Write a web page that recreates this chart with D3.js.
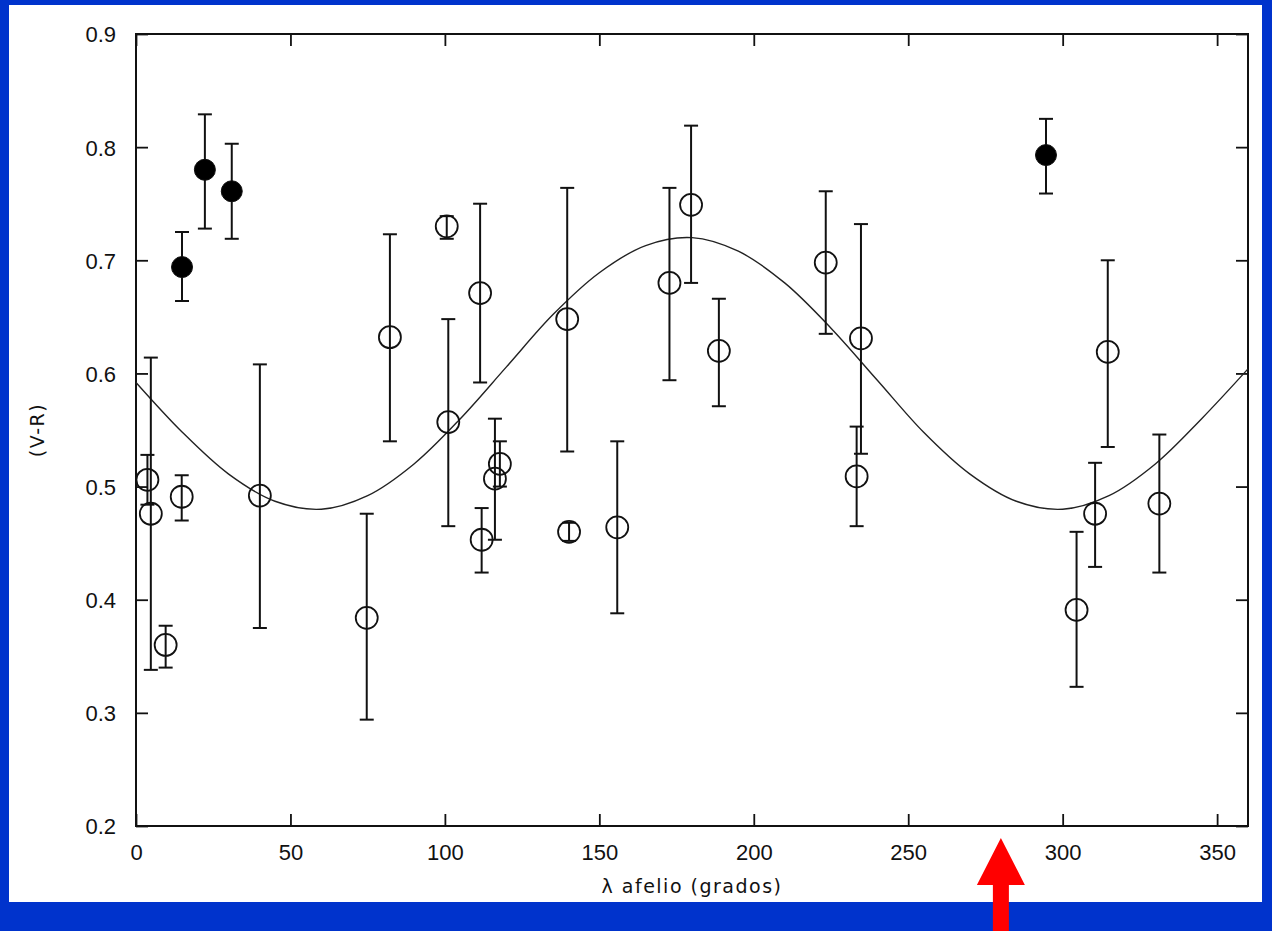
<!DOCTYPE html>
<html>
<head>
<meta charset="utf-8">
<script src="https://cdn.jsdelivr.net/npm/d3@7"></script>
<style>
    body { margin: 0; background: #0033cc; }
    svg { display: block; }
    .tick-label { font-family: "Liberation Sans", Arial, sans-serif; font-size: 22px; fill: #111; }
    .axis-title { font-family: "DejaVu Sans", sans-serif; font-size: 19px; letter-spacing: 1.5px; fill: #111; }
</style>
</head>
<body>
<svg id="chart" width="1272" height="931"></svg>
<script>

// open circles: lambda afelio, (V-R), error low, error high
let openLambda = [3.7, 4.8, 9.6, 14.8, 40.1, 74.7, 82.2, 100.6, 101.1, 111.4, 111.9, 116.2, 117.8, 139.6, 140.2, 155.8, 172.7, 179.7, 188.7, 223.3, 233.3, 234.7, 304.5, 310.5, 314.6, 331.3];
let openVR     = [0.506, 0.476, 0.360, 0.491, 0.492, 0.384, 0.632, 0.730, 0.557, 0.671, 0.453, 0.507, 0.520, 0.648, 0.460, 0.464, 0.680, 0.749, 0.620, 0.698, 0.509, 0.631, 0.391, 0.476, 0.619, 0.485];
let openLow    = [0.484, 0.338, 0.340, 0.470, 0.375, 0.294, 0.540, 0.719, 0.465, 0.592, 0.424, 0.453, 0.500, 0.531, 0.452, 0.388, 0.594, 0.680, 0.571, 0.635, 0.465, 0.529, 0.323, 0.429, 0.535, 0.424];
let openHigh   = [0.528, 0.614, 0.377, 0.510, 0.608, 0.476, 0.723, 0.739, 0.648, 0.750, 0.481, 0.560, 0.540, 0.764, 0.468, 0.540, 0.764, 0.819, 0.666, 0.761, 0.553, 0.732, 0.460, 0.521, 0.700, 0.546];

// filled circles
let filledLambda = [14.9, 22.3, 31.0, 294.6];
let filledVR     = [0.694, 0.780, 0.761, 0.793];
let filledLow    = [0.664, 0.728, 0.719, 0.759];
let filledHigh   = [0.725, 0.829, 0.803, 0.825];

let curveLambda = [0, 15, 30, 45, 60, 75, 90, 105, 120, 135, 150, 165, 180, 195, 210, 225, 240, 255, 270, 285, 300, 315, 330, 345, 360];
let curveVR     = [0.592, 0.548, 0.511, 0.487, 0.480, 0.492, 0.520, 0.560, 0.606, 0.652, 0.689, 0.713, 0.720, 0.708, 0.680, 0.640, 0.594, 0.548, 0.511, 0.487, 0.480, 0.492, 0.520, 0.560, 0.604];

let xTicks = [0, 50, 100, 150, 200, 250, 300, 350];
let yTicks = [0.2, 0.3, 0.4, 0.5, 0.6, 0.7, 0.8, 0.9];
let arrowAt = 280;

class Chart {

    constructor () {
        this.svg = d3.select("#chart");
        this.left = 136; this.right = 1248;
        this.top = 34; this.bottom = 826;

        this.x = d3.scaleLinear().domain([0, 360]).range([this.left, this.right]);
        this.y = d3.scaleLinear().domain([0.2, 0.9]).range([this.bottom, this.top]);

        this.drawBackground();
        this.drawAxes();
        this.drawCurve();
        this.drawPoints(openLambda, openVR, openLow, openHigh, false);
        this.drawPoints(filledLambda, filledVR, filledLow, filledHigh, true);
        this.drawArrow();
    };

    drawBackground () {
        this.svg.append("rect").attr("width", 1272).attr("height", 931).attr("fill", "#0033cc");
        this.svg.append("rect").attr("x", 9).attr("y", 5).attr("width", 1253).attr("height", 897).attr("fill", "#fff");
    };

    drawAxes () {
        let w = this.right - this.left, h = this.bottom - this.top;

        // bottom + top, ticks pointing inward
        this.svg.append("g")
            .attr("transform", "translate(0," + this.bottom + ")")
            .call(d3.axisBottom(this.x).tickValues(xTicks).tickSizeInner(-12).tickSizeOuter(0).tickFormat(d3.format("d")))
            .call(g => g.selectAll("text").attr("class", "tick-label").attr("y", 34).attr("dy", 0));
        this.svg.append("g")
            .attr("transform", "translate(0," + this.top + ")")
            .call(d3.axisTop(this.x).tickValues(xTicks).tickSizeInner(-12).tickSizeOuter(0).tickFormat(""));

        // left + right
        this.svg.append("g")
            .attr("transform", "translate(" + this.left + ",0)")
            .call(d3.axisLeft(this.y).tickValues(yTicks).tickSizeInner(-12).tickSizeOuter(0).tickFormat(d3.format(".1f")))
            .call(g => g.selectAll("text").attr("class", "tick-label").attr("x", -20).attr("dy", "0.36em"));
        this.svg.append("g")
            .attr("transform", "translate(" + this.right + ",0)")
            .call(d3.axisRight(this.y).tickValues(yTicks).tickSizeInner(-12).tickSizeOuter(0).tickFormat(""));

        this.svg.selectAll(".domain").remove();
        this.svg.selectAll(".tick line").attr("stroke", "#111").attr("stroke-width", 1.8);

        this.svg.append("rect")
            .attr("x", this.left).attr("y", this.top)
            .attr("width", w).attr("height", h)
            .attr("fill", "none").attr("stroke", "#111").attr("stroke-width", 2);

        this.svg.append("text")
            .attr("class", "axis-title")
            .attr("x", 692).attr("y", 893)
            .attr("text-anchor", "middle")
            .text("λ afelio (grados)");

        this.svg.append("text")
            .attr("class", "axis-title")
            .attr("transform", "translate(44,430) rotate(-90)")
            .attr("text-anchor", "middle")
            .text("(V-R)");
    };

    drawCurve () {
        let pts = curveLambda.map((d, i) => [d, curveVR[i]]);
        let line = d3.line()
            .x(d => this.x(d[0]))
            .y(d => this.y(d[1]))
            .curve(d3.curveCatmullRom);
        this.svg.append("path")
            .datum(pts)
            .attr("d", line)
            .attr("fill", "none")
            .attr("stroke", "#222")
            .attr("stroke-width", 1.4);
    };

    drawPoints (lams, vals, lows, highs, filled) {
        let self = this;
        let data = lams.map((d, i) => ({lam: d, v: vals[i], lo: lows[i], hi: highs[i]}));
        let g = this.svg.append("g").attr("stroke", "#111").attr("stroke-width", 2);
        let cap = 7;

        g.selectAll("line.bar").data(data).enter().append("line")
            .attr("x1", d => self.x(d.lam)).attr("x2", d => self.x(d.lam))
            .attr("y1", d => self.y(d.lo)).attr("y2", d => self.y(d.hi));
        g.selectAll("line.capTop").data(data).enter().append("line")
            .attr("x1", d => self.x(d.lam) - cap).attr("x2", d => self.x(d.lam) + cap)
            .attr("y1", d => self.y(d.hi)).attr("y2", d => self.y(d.hi));
        g.selectAll("line.capBot").data(data).enter().append("line")
            .attr("x1", d => self.x(d.lam) - cap).attr("x2", d => self.x(d.lam) + cap)
            .attr("y1", d => self.y(d.lo)).attr("y2", d => self.y(d.lo));

        g.selectAll("circle").data(data).enter().append("circle")
            .attr("cx", d => self.x(d.lam))
            .attr("cy", d => self.y(d.v))
            .attr("r", filled ? 10.5 : 11)
            .attr("fill", filled ? "#000" : "none")
            .attr("stroke-width", filled ? 1 : 1.8);
    };

    drawArrow () {
        let ax = this.x(arrowAt);
        let tip = 838, base = 885;
        this.svg.append("path")
            .attr("d", "M" + ax + "," + tip + " L" + (ax + 24) + "," + base + " L" + (ax + 8) + "," + base +
                       " L" + (ax + 8) + ",931 L" + (ax - 8) + ",931 L" + (ax - 8) + "," + base +
                       " L" + (ax - 24) + "," + base + " Z")
            .attr("fill", "#ff0000");
    };
};

new Chart();
</script>
</body>
</html>
